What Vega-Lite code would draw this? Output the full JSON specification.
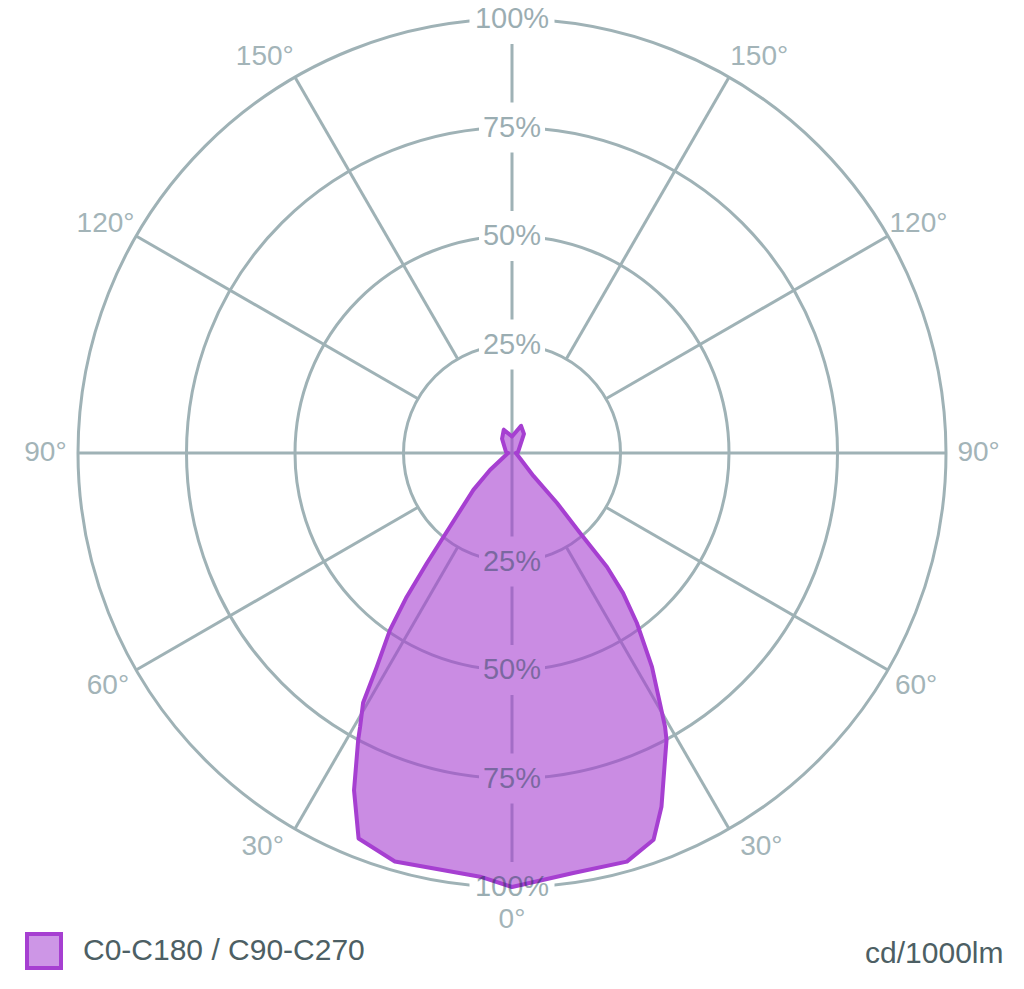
{
  "$schema": "https://vega.github.io/schema/vega-lite/v6.json",
  "width": 1024,
  "height": 989,
  "autosize": {"type": "none"},
  "padding": 0,
  "background": "white",
  "config": {
    "view": {"stroke": null},
    "axisY": {"disable": true},
    "axisX": {"domain": false, "ticks": false, "labels": false, "grid": false}
  },
  "datasets": {
    "rings": [{"pct": 25}, {"pct": 50}, {"pct": 75}, {"pct": 100}],
    "spokes": [
      {"g": 0, "r1": 0, "r2": 100},
      {"g": 30, "r1": 25, "r2": 100},
      {"g": -30, "r1": 25, "r2": 100},
      {"g": 60, "r1": 25, "r2": 100},
      {"g": -60, "r1": 25, "r2": 100},
      {"g": 90, "r1": 0, "r2": 100},
      {"g": -90, "r1": 0, "r2": 100},
      {"g": 120, "r1": 25, "r2": 100},
      {"g": -120, "r1": 25, "r2": 100},
      {"g": 150, "r1": 25, "r2": 100},
      {"g": -150, "r1": 25, "r2": 100},
      {"g": 180, "r1": 0, "r2": 100}
    ],
    "ticks": [
      {"g": 180, "v": 25, "t": "25%"},
      {"g": 180, "v": 50, "t": "50%"},
      {"g": 180, "v": 75, "t": "75%"},
      {"g": 180, "v": 100, "t": "100%"},
      {"g": 0, "v": 25, "t": "25%"},
      {"g": 0, "v": 50, "t": "50%"},
      {"g": 0, "v": 75, "t": "75%"},
      {"g": 0, "v": 100, "t": "100%"}
    ],
    "angles": [
      {"a": 0, "t": "0°"},
      {"a": 32.3, "t": "30°"},
      {"a": -32.3, "t": "30°"},
      {"a": 60, "t": "60°"},
      {"a": -60, "t": "60°"},
      {"a": 90, "t": "90°"},
      {"a": -90, "t": "90°"},
      {"a": 119.4, "t": "120°"},
      {"a": -119.4, "t": "120°"},
      {"a": 148, "t": "150°"},
      {"a": -148, "t": "150°"}
    ],
    "curve": [
      {"i": 0, "g": 0, "v": 100},
      {"i": 1, "g": 8.3, "v": 97.8},
      {"i": 2, "g": 15.7, "v": 97.8},
      {"i": 3, "g": 20.1, "v": 94.9},
      {"i": 4, "g": 22.9, "v": 88.5},
      {"i": 5, "g": 26.5, "v": 79.0},
      {"i": 6, "g": 28.3, "v": 75.1},
      {"i": 7, "g": 29.2, "v": 72.3},
      {"i": 8, "g": 33.2, "v": 58.9},
      {"i": 9, "g": 36.3, "v": 48.6},
      {"i": 10, "g": 38.4, "v": 41.2},
      {"i": 11, "g": 39.8, "v": 34.2},
      {"i": 12, "g": 40.4, "v": 24.2},
      {"i": 13, "g": 42.0, "v": 15.5},
      {"i": 14, "g": 43.0, "v": 7.3},
      {"i": 15, "g": 90, "v": 0.9},
      {"i": 16, "g": 99.5, "v": 1.4},
      {"i": 17, "g": 148, "v": 5.2},
      {"i": 18, "g": 161.5, "v": 6.6},
      {"i": 19, "g": 180, "v": 3.8},
      {"i": 20, "g": -160.6, "v": 5.7},
      {"i": 21, "g": -145, "v": 4.0},
      {"i": 22, "g": -99.5, "v": 1.4},
      {"i": 23, "g": -90, "v": 0.9},
      {"i": 24, "g": -52.3, "v": 6.4},
      {"i": 25, "g": -46.3, "v": 12.3},
      {"i": 26, "g": -40.1, "v": 22.2},
      {"i": 27, "g": -37.7, "v": 32.1},
      {"i": 28, "g": -36.2, "v": 41.1},
      {"i": 29, "g": -34.6, "v": 49.5},
      {"i": 30, "g": -32.3, "v": 58.3},
      {"i": 31, "g": -30.8, "v": 67.0},
      {"i": 32, "g": -29.0, "v": 72.2},
      {"i": 33, "g": -28.2, "v": 75.0},
      {"i": 34, "g": -25.1, "v": 85.8},
      {"i": 35, "g": -21.7, "v": 95.6},
      {"i": 36, "g": -16.0, "v": 97.9},
      {"i": 37, "g": -4.3, "v": 97.9}
    ]
  },
  "encoding": {
    "x": {
      "field": "x",
      "type": "quantitative",
      "scale": {"domain": [-117.97, 117.97], "nice": false, "zero": false},
      "axis": {
        "title": "cd/1000lm",
        "titleFont": "Liberation Sans",
        "titleFontSize": 30,
        "titleFontWeight": "normal",
        "titleColor": "#4d5f64",
        "titleAnchor": "end",
        "titleAlign": "right",
        "titleBaseline": "middle",
        "titleX": 1003,
        "titleY": -36
      }
    },
    "y": {
      "field": "y",
      "type": "quantitative",
      "scale": {"domain": [-123.5, 104.38], "nice": false, "zero": false}
    }
  },
  "layer": [
    {
      "data": {"name": "rings"},
      "transform": [
        {"calculate": "0", "as": "x"},
        {"calculate": "0", "as": "y"}
      ],
      "mark": {"type": "point", "shape": "circle", "filled": false, "stroke": "#9fb2b6", "strokeWidth": 3, "opacity": 1},
      "encoding": {
        "size": {
          "field": "pct",
          "type": "quantitative",
          "scale": {"type": "pow", "exponent": 2, "domain": [0, 100], "range": [0, 753424]},
          "legend": null
        }
      }
    },
    {
      "data": {"name": "spokes"},
      "transform": [
        {"calculate": "datum.r1 * sin(datum.g * PI / 180)", "as": "x"},
        {"calculate": "-datum.r1 * cos(datum.g * PI / 180)", "as": "y"},
        {"calculate": "datum.r2 * sin(datum.g * PI / 180)", "as": "x2"},
        {"calculate": "-datum.r2 * cos(datum.g * PI / 180)", "as": "y2"}
      ],
      "mark": {"type": "rule", "color": "#9fb2b6", "strokeWidth": 3},
      "encoding": {
        "x2": {"field": "x2"},
        "y2": {"field": "y2"}
      }
    },
    {
      "data": {"name": "ticks"},
      "transform": [
        {"filter": "datum.v < 100"},
        {"calculate": "datum.v * sin(datum.g * PI / 180)", "as": "x"},
        {"calculate": "-datum.v * cos(datum.g * PI / 180)", "as": "y"}
      ],
      "mark": {"type": "point", "shape": "M-1,-0.76H1V0.76H-1Z", "filled": true, "fill": "white", "strokeWidth": 0, "opacity": 1, "size": 4356}
    },
    {
      "data": {"name": "ticks"},
      "transform": [
        {"filter": "datum.v == 100"},
        {"calculate": "datum.v * sin(datum.g * PI / 180)", "as": "x"},
        {"calculate": "-datum.v * cos(datum.g * PI / 180)", "as": "y"}
      ],
      "mark": {"type": "point", "shape": "M-1,-0.59H1V0.59H-1Z", "filled": true, "fill": "white", "strokeWidth": 0, "opacity": 1, "size": 7225}
    },
    {
      "data": {"name": "angles"},
      "transform": [
        {"calculate": "107.5 * sin(datum.a * PI / 180)", "as": "x"},
        {"calculate": "-107.5 * cos(datum.a * PI / 180)", "as": "y"}
      ],
      "mark": {"type": "text", "font": "Liberation Sans", "fontSize": 28, "color": "#a3b4b8", "align": "center", "baseline": "middle"},
      "encoding": {"text": {"field": "t"}}
    },
    {
      "data": {"name": "curve"},
      "transform": [
        {"calculate": "datum.v * sin(datum.g * PI / 180)", "as": "x"},
        {"calculate": "-datum.v * cos(datum.g * PI / 180)", "as": "y"}
      ],
      "mark": {
        "type": "line",
        "interpolate": "linear-closed",
        "fill": "#a63fd1",
        "fillOpacity": 0.6,
        "stroke": "#a63fd1",
        "strokeOpacity": 0
      },
      "encoding": {
        "order": {"field": "i", "type": "quantitative"}
      }
    },
    {
      "data": {"name": "curve"},
      "transform": [
        {"calculate": "datum.v * sin(datum.g * PI / 180)", "as": "x"},
        {"calculate": "-datum.v * cos(datum.g * PI / 180)", "as": "y"}
      ],
      "mark": {
        "type": "line",
        "interpolate": "linear-closed",
        "fill": "#cd96e6",
        "fillOpacity": 0,
        "strokeWidth": 4,
        "strokeJoin": "round"
      },
      "encoding": {
        "order": {"field": "i", "type": "quantitative"},
        "color": {
          "datum": "C0-C180 / C90-C270",
          "type": "nominal",
          "scale": {"range": ["#a63fd1"]},
          "legend": {
            "orient": "none",
            "legendX": 25,
            "legendY": 932,
            "title": null,
            "padding": 0,
            "symbolType": "square",
            "symbolSize": 1156,
            "symbolStrokeWidth": 4,
            "labelFont": "Liberation Sans",
            "labelFontSize": 30,
            "labelColor": "#4d5f64",
            "labelOffset": 20,
            "labelLimit": 500
          }
        }
      }
    },
    {
      "data": {"name": "ticks"},
      "transform": [
        {"calculate": "datum.v * sin(datum.g * PI / 180)", "as": "x"},
        {"calculate": "-datum.v * cos(datum.g * PI / 180)", "as": "y"}
      ],
      "mark": {"type": "text", "font": "Liberation Sans", "fontSize": 29, "color": "#053440", "opacity": 0.4, "align": "center", "baseline": "middle"},
      "encoding": {"text": {"field": "t"}}
    }
  ]
}
